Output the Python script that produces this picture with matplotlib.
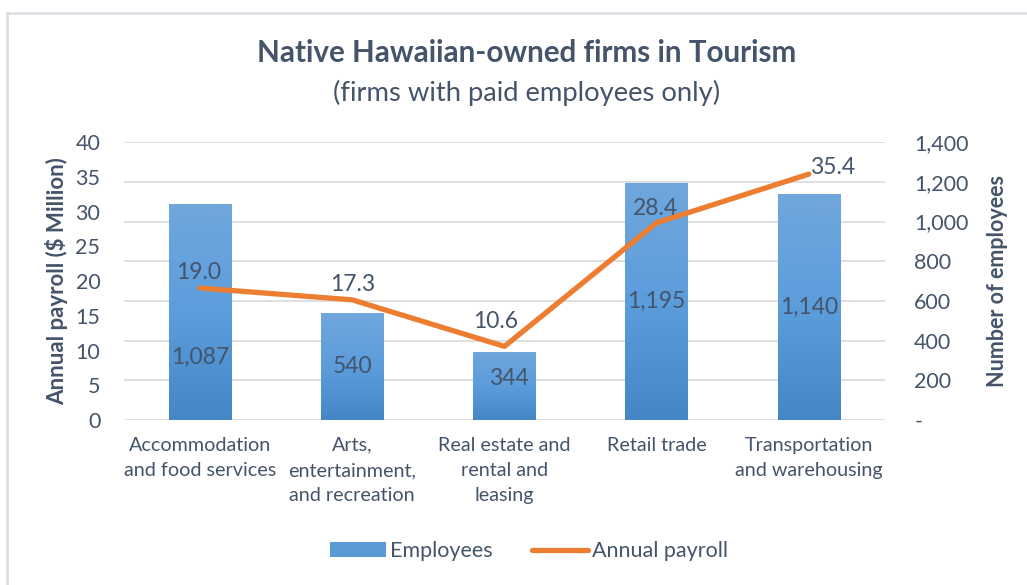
import numpy as np
import matplotlib.pyplot as plt
from matplotlib.lines import Line2D
from matplotlib.patches import Patch
from matplotlib.colors import LinearSegmentedColormap
import matplotlib.ticker as ticker

plt.rcParams['font.family'] = ['Lato', 'DejaVu Sans']

categories = ['Accommodation\nand food services', 'Arts,\nentertainment,\nand recreation',
              'Real estate and\nrental and\nleasing', 'Retail trade',
              'Transportation\nand warehousing']
employees = [1087, 540, 344, 1195, 1140]
payroll = [19.0, 17.3, 10.6, 28.4, 35.4]

TXT = '#44546a'
GRID = '#d9d9d9'
ORANGE = '#ed7d31'

fig = plt.figure(figsize=(10.27, 5.85), dpi=100)
ax = fig.add_axes([0.1207, 0.282, 0.741, 0.475])
ax2 = ax.twinx()

x = np.arange(len(categories))

# bars (employees) on the secondary axis, with a vertical gradient
bars = ax2.bar(x, employees, width=0.41, color='#5b9bd5', zorder=2)
grad = np.linspace(0, 1, 256).reshape(-1, 1)
cmap = LinearSegmentedColormap.from_list('g', ['#4586c6', '#5c9ddc', '#70a7dd'])
for b in bars:
    x0, w, h = b.get_x(), b.get_width(), b.get_height()
    im = ax2.imshow(grad, extent=[x0, x0 + w, 0, h], origin='lower', cmap=cmap,
                    aspect='auto', zorder=2.1)
    im.set_clip_path(b)

emp_off = [(0, 0), (0, 0), (3.5, 5), (0, 0), (0, 0)]
for i, (xi, v) in enumerate(zip(x, employees)):
    ypos = v * 0.29 if i == 0 else v / 2
    ax2.annotate(f'{v:,}', (xi, ypos), xytext=emp_off[i], textcoords='offset points',
                 ha='center', va='center', fontsize=16.5, color=TXT, zorder=3)

ax2.set_ylim(0, 1400)
ax2.set_yticks(np.arange(0, 1401, 200))
ax2.yaxis.set_major_formatter(ticker.FuncFormatter(lambda v, p: '-' if v == 0 else f'{int(v):,}'))
ax2.set_ylabel('Number of employees', fontsize=15.5, fontweight='bold', color=TXT)
ax2.yaxis.set_label_coords(1.134, 0.5)

# line (payroll) on the primary axis, drawn above bars
ax.set_zorder(ax2.get_zorder() + 1)
ax.patch.set_visible(False)
ax.plot(x, payroll, color=ORANGE, lw=3.8, solid_capstyle='round', solid_joinstyle='round', zorder=4)
offsets = [(-0.7, 11), (0, 11), (-6.5, 18), (-0.7, 10.5), (0.5, 5)]
aligns = ['center', 'center', 'center', 'center', 'left']
for xi, v, off, ha in zip(x, payroll, offsets, aligns):
    ax.annotate(f'{v:.1f}', (xi, v), xytext=off, textcoords='offset points',
                ha=ha, va='center', fontsize=16.5, color=TXT, zorder=5)

ax.set_ylim(0, 40)
ax.set_yticks(np.arange(0, 41, 5))
ax.set_xlim(-0.5, len(categories) - 0.5)
ax.set_xticks(x)
ax.set_xticklabels(categories, color=TXT, va='top', linespacing=1.6)
ax.set_ylabel('Annual payroll ($ Million)', fontsize=16, fontweight='bold', color=TXT)
ax.yaxis.set_label_coords(-0.074, 0.5)

for a in (ax, ax2):
    for s in a.spines.values():
        s.set_visible(False)
    a.tick_params(axis='y', length=0, labelsize=15.5, labelcolor=TXT)
ax.tick_params(axis='y', pad=17)
ax.tick_params(axis='x', length=0, labelsize=14.2, pad=12)
ax2.tick_params(axis='y', pad=21)
for lb in ax2.get_yticklabels():
    lb.set_ha('left')

ax2.yaxis.grid(True, color=GRID, lw=1.2, zorder=0)
ax2.set_axisbelow(True)

fig.text(0.513, 0.909, 'Native Hawaiian-owned firms in Tourism', ha='center', va='center',
         fontsize=21.3, fontweight='bold', color=TXT)
fig.text(0.513, 0.841, '(firms with paid employees only)', ha='center', va='center',
         fontsize=19.7, color=TXT)

handles = [Patch(facecolor='#5b9bd5'), Line2D([0], [0], color=ORANGE, lw=3.8, solid_capstyle='round')]
fig.legend(handles, ['Employees', 'Annual payroll'], loc='center', bbox_to_anchor=(0.515, 0.058),
           ncol=2, frameon=False, fontsize=15.5, labelcolor=TXT, handlelength=2.6,
           handletextpad=0.2, columnspacing=1.8)

# chart frame (left and top edges visible)
fig.add_artist(Line2D([0.0065, 0.0065], [0, 0.978], color='#dde1e6', lw=2, transform=fig.transFigure))
fig.add_artist(Line2D([0.0065, 1.0], [0.978, 0.978], color='#dde1e6', lw=2, transform=fig.transFigure))

fig.savefig('out.png', dpi=100)
